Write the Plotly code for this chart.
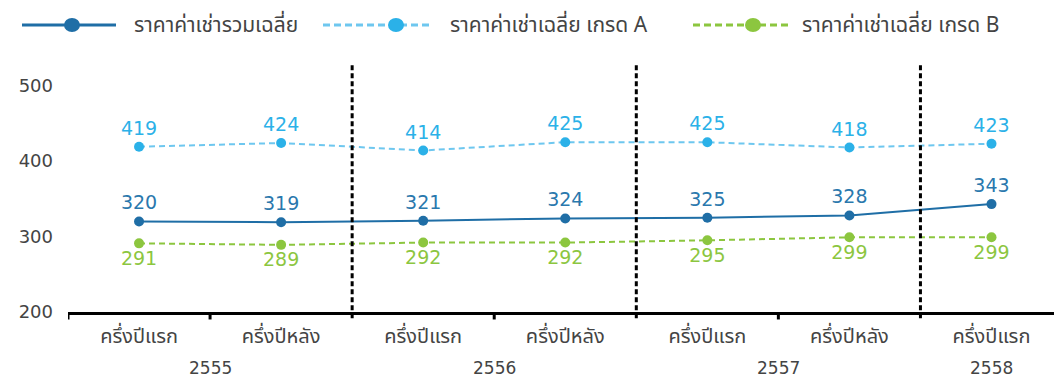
import plotly.graph_objects as go

# Half-year periods and rental series (baht / sq.m. / month)
periods = ["ครึ่งปีแรก", "ครึ่งปีหลัง", "ครึ่งปีแรก", "ครึ่งปีหลัง", "ครึ่งปีแรก", "ครึ่งปีหลัง", "ครึ่งปีแรก"]
years = ["2555", "2556", "2557", "2558"]
year_pos = [0.5, 2.5, 4.5, 6.0]
avg_all = [320, 319, 321, 324, 325, 328, 343]
grade_a = [419, 424, 414, 425, 425, 418, 423]
grade_b = [291, 289, 292, 292, 295, 299, 299]
series_names = ["ราคาค่าเช่ารวมเฉลี่ย", "ราคาค่าเช่าเฉลี่ย เกรด A", "ราคาค่าเช่าเฉลี่ย เกรด B"]

C_ALL = "#1f6ea6"
C_A = "#2bb1e8"
C_A_LINE = "#6ec7ef"
C_B = "#8cc63f"

W, H = 1054, 378
ML, MR, MT, MB = 68, 0, 63, 66
PW, PH = W - ML - MR, H - MT - MB

NUM_FONT = "'DejaVu Sans', sans-serif"
THAI_FONT = "'Noto Sans Thai', 'Noto Sans', 'DejaVu Sans', sans-serif"


def px_x(p):
    return (p - ML) / PW


def px_y(p):
    return (H - MB - p) / PH


idx = list(range(len(periods)))
fig = go.Figure()

fig.add_trace(go.Scatter(
    x=idx, y=grade_a, mode="lines+markers+text", name=series_names[1],
    line=dict(color=C_A_LINE, width=2, dash="6px,4px"),
    marker=dict(color=C_A, size=10),
    text=[str(v) for v in grade_a], textposition="top center",
    textfont=dict(color=C_A, size=19, family=NUM_FONT),
))
fig.add_trace(go.Scatter(
    x=idx, y=avg_all, mode="lines+markers+text", name=series_names[0],
    line=dict(color=C_ALL, width=2),
    marker=dict(color=C_ALL, size=10),
    text=[str(v) for v in avg_all], textposition="top center",
    textfont=dict(color="#2a78ad", size=19, family=NUM_FONT),
))
fig.add_trace(go.Scatter(
    x=idx, y=grade_b, mode="lines+markers+text", name=series_names[2],
    line=dict(color=C_B, width=2, dash="6px,4px"),
    marker=dict(color=C_B, size=10),
    text=[str(v) for v in grade_b], textposition="bottom center",
    textfont=dict(color=C_B, size=19, family=NUM_FONT),
))

shapes = []
# tick marks on the category axis
for xv in [-0.5, 0.5, 2.5, 4.5]:
    shapes.append(dict(type="line", xref="x", yref="paper", x0=xv, x1=xv,
                       y0=0, y1=-0.03, line=dict(color="black", width=3)))
# dashed year separators
for xv in [1.5, 3.5, 5.5]:
    shapes.append(dict(type="line", xref="x", yref="paper", x0=xv, x1=xv,
                       y0=-0.025, y1=1.0, line=dict(color="black", width=3, dash="5px,3px")))

# legend drawn by hand: long line samples with a marker in the middle
legend_items = [
    (22, 116, 72, C_ALL, C_ALL, "solid", 132, series_names[0]),
    (323, 432, 396, C_A_LINE, C_A, "7px,4px", 448, series_names[1]),
    (693, 790, 753, C_B, C_B, "7px,4px", 800, series_names[2]),
]
ly = px_y(25)
annotations = []
for x0, x1, xc, lc, mc, dash, tx, label in legend_items:
    shapes.append(dict(type="line", xref="paper", yref="paper", x0=px_x(x0), x1=px_x(x1),
                       y0=ly, y1=ly, line=dict(color=lc, width=3, dash=dash)))
    shapes.append(dict(type="circle", xref="paper", yref="paper", xsizemode="pixel",
                       ysizemode="pixel", xanchor=px_x(xc), yanchor=ly,
                       x0=-8, x1=8, y0=-7, y1=7, fillcolor=mc, line=dict(width=0)))
    annotations.append(dict(xref="paper", yref="paper", x=px_x(tx), y=ly, text=label,
                            showarrow=False, xanchor="left", yanchor="middle",
                            font=dict(size=21, color="#444", family=THAI_FONT)))

for yr, xp in zip(years, year_pos):
    annotations.append(dict(xref="x", yref="paper", x=xp, y=px_y(368), text=yr,
                            showarrow=False, xanchor="center", yanchor="middle",
                            font=dict(size=17, color="#444", family=NUM_FONT)))

fig.update_layout(
    width=W, height=H,
    margin=dict(l=ML, r=MR, t=MT, b=MB),
    paper_bgcolor="white", plot_bgcolor="white",
    showlegend=False,
    shapes=shapes, annotations=annotations,
    xaxis=dict(range=[-0.5, 6.44], tickvals=idx, ticktext=periods,
               showgrid=False, zeroline=False, showline=True,
               linecolor="black", linewidth=3, ticks="",
               tickfont=dict(size=20, color="#444", family=THAI_FONT),
               ticklabelstandoff=4),
    yaxis=dict(range=[200, 530], tickvals=[200, 300, 400, 500],
               showgrid=False, zeroline=False, showline=False, ticks="",
               tickfont=dict(size=18, color="#444", family=NUM_FONT),
               ticklabelstandoff=14),
)

fig.write_html("out.html")
